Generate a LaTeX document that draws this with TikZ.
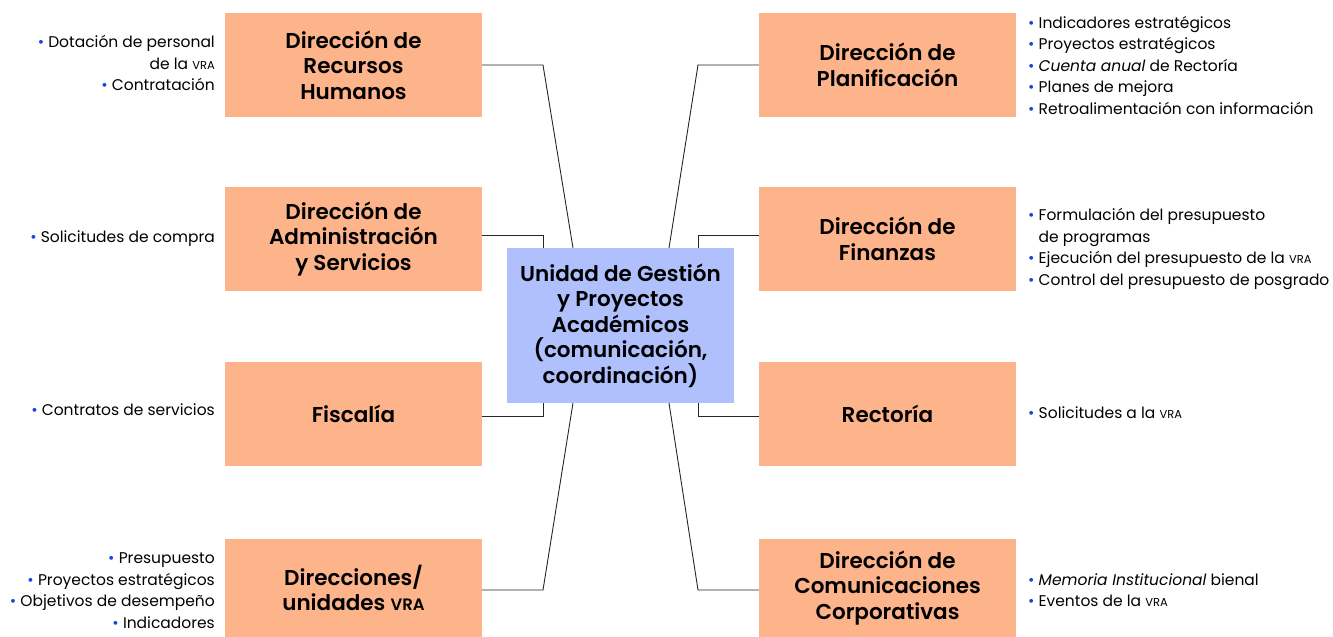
\documentclass[tikz,border=0pt]{standalone}
\usepackage{fontspec}
\setmainfont{Poppins}
\newfontfamily\tfont{Poppins SemiBold}
\usetikzlibrary{calc}
\definecolor{peach}{HTML}{FDB48B}
\definecolor{lav}{HTML}{AFC0FD}
\definecolor{bblue}{HTML}{1F3FE0}
\newcommand{\bul}{\textcolor{bblue}{•}\ }
\newcommand{\vrab}{{\fontsize{11.5}{11.5}\selectfont VRA}}
\newcommand{\vrat}{{\fontsize{16.5}{16.5}\selectfont VRA}}
\tikzset{
  dirbox/.style={fill=peach, draw=none, minimum width=257pt, minimum height=104pt, align=center, inner sep=0pt,
    font=\fontsize{21.5}{25.5}\selectfont\tfont},
  centbox/.style={fill=lav, draw=none, minimum width=227pt, minimum height=155pt, align=center, inner sep=0pt,
    font=\fontsize{21.5}{25.5}\selectfont\tfont},
  listl/.style={align=right, anchor=east, inner sep=0pt, font=\fontsize{15.5}{21.5}\selectfont},
  listr/.style={align=left, anchor=west, inner sep=0pt, font=\fontsize{15.5}{21.5}\selectfont},
  conn/.style={draw=black!85, line width=0.9pt}
}
\begin{document}
\begin{tikzpicture}[x=1pt,y=-1pt]
\useasboundingbox (0,0) rectangle (1333,637);
% nodes
\node[centbox] (C) at (620.5,325.5) {Unidad de Gestión\\y Proyectos\\Académicos\\(comunicación,\\coordinación)};
\node[dirbox] (L1) at (353.5,65) {Dirección de\\Recursos\\Humanos};
\node[dirbox] (L2) at (353.5,239) {Dirección de\\Administración\\y Servicios};
\node[dirbox] (L3) at (353.5,414) {Fiscalía};
\node[dirbox, minimum height=98pt] (L4) at (353.5,588) {Direcciones/\\unidades \vrat};
\node[dirbox] (R1) at (887.5,65) {Dirección de\\Planificación};
\node[dirbox] (R2) at (887.5,239) {Dirección de\\Finanzas};
\node[dirbox] (R3) at (887.5,414) {Rectoría};
\node[dirbox, minimum height=98pt] (R4) at (887.5,588) {Dirección de\\Comunicaciones\\Corporativas};
% connector corner coordinates
\coordinate (kL1) at (543,65);
\coordinate (kR1) at (698,65);
\coordinate (kL4) at (543,590);
\coordinate (kR4) at (698,590);
\coordinate (tL) at (573,248);
\coordinate (tR) at (669,248);
\coordinate (bL) at (573,403);
\coordinate (bR) at (669,403);
\coordinate (vL) at (543,248);
\coordinate (vR) at (698,248);
\coordinate (wL) at (543,403);
\coordinate (wR) at (698,403);
% connectors
\draw[conn] (L1.east) -- (kL1) -- (tL);
\draw[conn] (R1.west) -- (kR1) -- (tR);
\draw[conn] (L4.east |- kL4) -- (kL4) -- (bL);
\draw[conn] (R4.west |- kR4) -- (kR4) -- (bR);
\draw[conn] ($(L2.east)+(0,-4)$) -| (vL);
\draw[conn] ($(R2.west)+(0,-4)$) -| (vR);
\draw[conn] ($(L3.east)+(0,2)$) -| (wL);
\draw[conn] ($(R3.west)+(0,2)$) -| (wR);
% left lists
\node[listl] (tl1) at (215,63) {\bul Dotación de personal\\de la \vrab\\\bul Contratación};
\node[listl] (tl2) at (215,239) {\bul Solicitudes de compra};
\node[listl] (tl3) at (215,410) {\bul Contratos de servicios};
\node[listl] (tl4) at (215,590.5) {\bul Presupuesto\\\bul Proyectos estratégicos\\\bul Objetivos de desempeño\\\bul Indicadores};
% right lists
\node[listr] (tr1) at (1028,65.5) {\bul Indicadores estratégicos\\\bul Proyectos estratégicos\\\bul \textit{Cuenta anual} de Rectoría\\\bul Planes de mejora\\\bul Retroalimentación con información};
\node[listr] (tr2) at (1028,249) {\bul Formulación del presupuesto\\\phantom{\bul}de programas\\\bul Ejecución del presupuesto de la \vrab\\\bul Control del presupuesto de posgrado};
\node[listr] (tr3) at (1028,413) {\bul Solicitudes a la \vrab};
\node[listr] (tr4) at (1028,590) {\bul \textit{Memoria Institucional} bienal\\\bul Eventos de la \vrab};
\end{tikzpicture}
\end{document}
